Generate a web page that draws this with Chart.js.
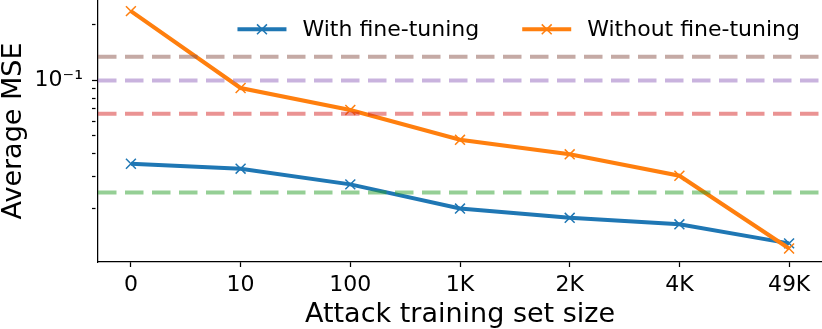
<!DOCTYPE html>
<html>
<head>
<meta charset="utf-8">
<script src="https://cdn.jsdelivr.net/npm/chart.js@4"></script>
<style>
  body { margin: 0; background: #fff; }
</style>
</head>
<body>
<canvas id="chart" width="822" height="329"></canvas>
<script>
// data
const categories = ["0", "10", "100", "1K", "2K", "4K", "49K"];
const withFineTuning = [0.0352, 0.0331, 0.0272, 0.0201, 0.0179, 0.0165, 0.0130];
const withoutFineTuning = [0.2375, 0.0908, 0.0690, 0.0475, 0.0396, 0.0303, 0.0122];
const baselineValues = [0.1343, 0.0998, 0.0657, 0.0246];
const baselineColors = [
    "rgba(140, 86, 75, 0.5)",
    "rgba(148, 103, 189, 0.5)",
    "rgba(214, 39, 40, 0.5)",
    "rgba(44, 160, 44, 0.5)"
];
const yTickValues = [0.02, 0.03, 0.04, 0.05, 0.06, 0.07, 0.08, 0.09, 0.1, 0.2];

Chart.defaults.font.family = '"DejaVu Sans", sans-serif';
Chart.defaults.color = "#000";

const toPoints = (values) => values.map((v, i) => ({ x: i, y: v }));

const seriesDatasets = [
    { label: "With fine-tuning", data: toPoints(withFineTuning), color: "#1f77b4", order: 2 },
    { label: "Without fine-tuning", data: toPoints(withoutFineTuning), color: "#ff7f0e", order: 1 }
].map((s) => ({
    label: s.label,
    data: s.data,
    borderColor: s.color,
    backgroundColor: s.color,
    borderWidth: 4,
    tension: 0,
    pointStyle: "crossRot",
    pointRadius: 7,
    pointBorderWidth: 1.5,
    order: s.order,
    inLegend: true
}));

const baselineDatasets = baselineValues.map((v, i) => ({
    label: "baseline " + i,
    data: [{ x: -0.3, y: v }, { x: categories.length - 0.7, y: v }],
    borderColor: baselineColors[i],
    borderWidth: 4,
    borderDash: [18.5, 8.5],
    pointRadius: 0,
    order: 0,
    inLegend: false
}));

// legend drawn inside the plot like the original
const insideLegend = {
    id: "insideLegend",
    afterDraw(chart) {
        const { ctx, chartArea } = chart;
        const items = chart.data.datasets.filter((d) => d.inLegend);
        ctx.save();
        ctx.font = '22px "DejaVu Sans"';
        const widths = items.map((d) => 49 + 16 + ctx.measureText(d.label).width);
        const total = widths.reduce((a, b) => a + b, 0) + 43 * (items.length - 1);
        let x = chartArea.right - 22 - total;
        const lineY = chartArea.top + 29.3;
        items.forEach((d, i) => {
            ctx.strokeStyle = d.borderColor;
            ctx.lineWidth = 4;
            ctx.beginPath();
            ctx.moveTo(x, lineY);
            ctx.lineTo(x + 49, lineY);
            ctx.stroke();
            const cx = x + 24.5;
            const r = 7 * Math.SQRT1_2;
            ctx.lineWidth = 1.5;
            ctx.beginPath();
            ctx.moveTo(cx - r, lineY - r);
            ctx.lineTo(cx + r, lineY + r);
            ctx.moveTo(cx - r, lineY + r);
            ctx.lineTo(cx + r, lineY - r);
            ctx.stroke();
            ctx.fillStyle = "#000";
            ctx.textBaseline = "alphabetic";
            ctx.fillText(d.label, x + 65, chartArea.top + 36);
            x += widths[i] + 43;
        });
        ctx.restore();
    }
};

const ctx = document.getElementById("chart").getContext("2d");
const chart = new Chart(ctx, {
    type: "line",
    data: { datasets: seriesDatasets.concat(baselineDatasets) },
    options: {
        responsive: false,
        animation: false,
        devicePixelRatio: 1,
        layout: { padding: 0, autoPadding: false },
        plugins: {
            legend: { display: false },
            tooltip: { enabled: false }
        },
        scales: {
            x: {
                type: "linear",
                min: -0.3,
                max: categories.length - 0.7,
                afterBuildTicks: (scale) => {
                    scale.ticks = categories.map((c, i) => ({ value: i }));
                },
                afterFit: (scale) => {
                    scale.height = 67;
                    scale.paddingLeft = 0;
                    scale.paddingRight = 0;
                },
                ticks: {
                    callback: (v) => categories[v],
                    font: { size: 22 },
                    padding: 5,
                    maxRotation: 0,
                    autoSkip: false
                },
                grid: { drawOnChartArea: false, tickLength: 5, tickColor: "#000", tickWidth: 1.25 },
                border: { color: "#000", width: 1.25 },
                title: {
                    display: true,
                    text: "Attack training set size",
                    font: { size: 27, lineHeight: 1 },
                    padding: { top: 0, bottom: 0.5 }
                }
            },
            y: {
                type: "logarithmic",
                min: 0.0103,
                max: 0.273,
                afterBuildTicks: (scale) => {
                    scale.ticks = yTickValues.map((v) => ({ value: v }));
                },
                afterFit: (scale) => {
                    scale.width = 98;
                    scale.paddingTop = 0;
                    scale.paddingBottom = 0;
                },
                ticks: {
                    callback: (v) => (v === 0.1 ? "10⁻¹" : ""),
                    font: { size: 22 },
                    padding: 9,
                    autoSkip: false
                },
                grid: {
                    drawOnChartArea: false,
                    tickLength: 6,
                    tickColor: "#000",
                    tickWidth: 1.25,
                    tickBorderDash: (c) => (c.tick && c.tick.value === 0.1 ? [] : [3.5, 20])
                },
                border: { color: "#000", width: 1.25 },
                title: {
                    display: true,
                    text: "Average MSE",
                    font: { size: 27, lineHeight: 1 },
                    padding: { top: 0, bottom: 0 }
                }
            }
        }
    },
    plugins: [insideLegend]
});
</script>
</body>
</html>
